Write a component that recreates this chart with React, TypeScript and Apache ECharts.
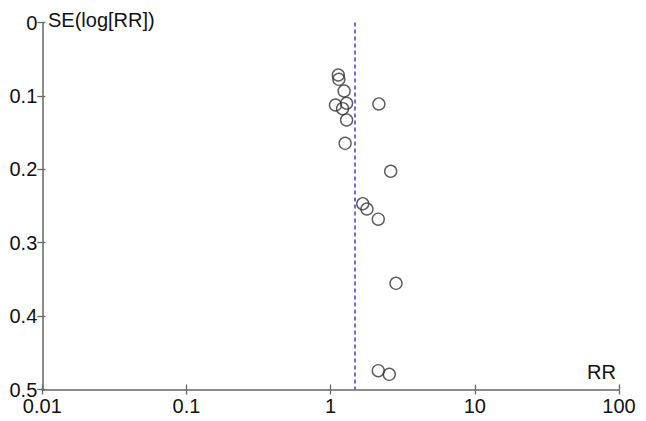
import React, { useEffect, useRef } from "react";
import * as echarts from "echarts";

const rrValues = [1.13, 1.14, 1.24, 1.08, 1.29, 1.21, 1.29, 1.26, 2.16, 2.61, 1.67, 1.785, 2.14, 2.84, 2.14, 2.55];
const seValues = [0.0715, 0.0774, 0.0933, 0.1124, 0.110, 0.1174, 0.1328, 0.1646, 0.111, 0.2027, 0.2469, 0.2541, 0.268, 0.3553, 0.4744, 0.4793];
const pooledRR = 1.48;
const xTicks = [0.01, 0.1, 1, 10, 100];
const yTicks = [0, 0.1, 0.2, 0.3, 0.4, 0.5];

const FONT = "'Liberation Sans', Arial, Helvetica, sans-serif";
const AXIS_COLOR = "#666";
const TEXT_COLOR = "#111";

function fmtX(v: number): string {
  const found = xTicks.find((t) => Math.abs(Math.log10(t) - Math.log10(v)) < 1e-6);
  return found !== undefined ? String(found) : "";
}

export default function App() {
  const ref = useRef<HTMLDivElement>(null);
  useEffect(() => {
    document.body.style.margin = "0";
    if (!ref.current) return;
    const chart = echarts.init(ref.current, null, { renderer: "svg" });
    const points = rrValues.map((rr, i) => [rr, seValues[i]]);
    const baseX = {
      type: "log" as const,
      logBase: 10,
      min: xTicks[0],
      max: xTicks[xTicks.length - 1],
      position: "bottom" as const,
      splitLine: { show: false },
    };
    const baseY = {
      type: "value" as const,
      inverse: true,
      min: yTicks[0],
      max: yTicks[yTicks.length - 1],
      interval: 0.1,
      position: "left" as const,
      splitLine: { show: false },
    };
    chart.setOption({
      animation: false,
      backgroundColor: "#fff",
      grid: { left: 42.3, right: 27, top: 22.5, bottom: 31.5, containLabel: false },
      xAxis: [
        {
          ...baseX,
          axisLine: { show: true, onZero: false, lineStyle: { color: AXIS_COLOR, width: 1.5 } },
          axisTick: { show: true, inside: false, length: 5, lineStyle: { color: AXIS_COLOR, width: 1.3 } },
          axisLabel: {
            show: true,
            margin: 9,
            lineHeight: 15,
            color: TEXT_COLOR,
            fontSize: 20,
            fontFamily: FONT,
            formatter: (v: number) => fmtX(v),
          },
        },
        {
          ...baseX,
          axisLine: { show: false, onZero: false },
          axisTick: { show: true, inside: true, length: 5, lineStyle: { color: AXIS_COLOR, width: 1.3 } },
          axisLabel: { show: false },
        },
      ],
      yAxis: [
        {
          ...baseY,
          axisLine: { show: true, onZero: false, lineStyle: { color: AXIS_COLOR, width: 1.5 } },
          axisTick: { show: true, inside: false, length: 5, lineStyle: { color: AXIS_COLOR, width: 1.3 } },
          axisLabel: {
            show: true,
            margin: 5,
            lineHeight: 14,
            color: TEXT_COLOR,
            fontSize: 20,
            fontFamily: FONT,
            formatter: (v: number) => String(Math.round(v * 10) / 10),
          },
        },
        {
          ...baseY,
          axisLine: { show: false, onZero: false },
          axisTick: { show: true, inside: true, length: 3, lineStyle: { color: AXIS_COLOR, width: 1.3 } },
          axisLabel: { show: false },
        },
      ],
      graphic: [
        {
          type: "text",
          left: 48,
          top: 10,
          style: { text: "SE(log[RR])", fill: TEXT_COLOR, fontSize: 20, fontFamily: FONT },
        },
        {
          type: "text",
          left: 587,
          top: 362,
          style: { text: "RR", fill: TEXT_COLOR, fontSize: 20, fontFamily: FONT },
        },
      ],
      series: [
        {
          type: "scatter",
          xAxisIndex: 0,
          yAxisIndex: 0,
          data: points,
          symbol: "circle",
          symbolSize: 12,
          itemStyle: { color: "rgba(0,0,0,0)", borderColor: "#333", borderWidth: 1.4 },
          markLine: {
            silent: true,
            symbol: ["none", "none"],
            label: { show: false },
            lineStyle: { color: "#3c3cf0", type: [4, 3], width: 1.5 },
            data: [{ xAxis: pooledRR }],
          },
        },
      ],
    });
    return () => chart.dispose();
  }, []);
  return <div ref={ref} style={{ width: 646, height: 421 }} />;
}
